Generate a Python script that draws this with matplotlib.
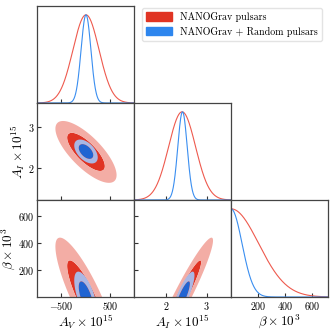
import numpy as np
import matplotlib
matplotlib.use("Agg")
import matplotlib.pyplot as plt
from matplotlib.patches import Patch

plt.rcParams["font.family"] = "serif"
plt.rcParams["font.serif"] = ["cmr10"]
plt.rcParams["mathtext.fontset"] = "cm"
plt.rcParams["axes.formatter.use_mathtext"] = True

# parameter names / axis labels
labels = [r"$A_V \times 10^{15}$", r"$A_I \times 10^{15}$", r"$\beta \times 10^3$"]
limits = [(-990, 990), (1.22, 3.6), (0, 720)]
ticks = [[-500, 500], [2, 3], [200, 400, 600]]

series_names = ["NANOGrav pulsars", "NANOGrav + Random pulsars"]

# posterior summaries
# 1D marginals: mean, sigma
red_mean = [10, 2.40, 0]
red_sigma_1d = [265, 0.33, 205]
blue_mean = [10, 2.41, 0]
blue_sigma_1d = [100, 0.115, 82]

# 2D contours: sigma and correlations (AV-AI, AV-b, AI-b)
red_sigma_2d = [255, 0.31, 180]
red_rho = [-0.75, -0.85, 0.95]
blue_sigma_2d = [98, 0.12, 77]
blue_rho = [-0.5, -0.65, 0.85]

dark = ["#E03424", "#2064D2"]
light = ["#F3ADA5", "#A9B7E4"]
line = ["#EE5A4E", "#3A8EF0"]
legend_colors = ["#E03424", "#2E86EE"]

# 68% / 95% 2D levels in chi2
chi2_levels = [0, 2.279, 5.991]


def rho_of(rho, i, j):
    key = {(0, 1): 0, (0, 2): 1, (1, 2): 2}[(min(i, j), max(i, j))]
    return rho[key]


fig = plt.figure(figsize=(3.32, 3.32), dpi=100)
W = 332.0
left, size = 37 / W, 97.0 / W
bottom = 1 - 297 / W

axes = {}
for r in range(3):
    for c in range(r + 1):
        ax = fig.add_axes([left + c * size, bottom + (2 - r) * size, size, size])
        axes[(r, c)] = ax

sets = [(red_mean, red_sigma_1d, red_sigma_2d, red_rho),
        (blue_mean, blue_sigma_1d, blue_sigma_2d, blue_rho)]

for r in range(3):
    for c in range(r + 1):
        ax = axes[(r, c)]
        if r == c:
            x = np.linspace(*limits[c], 600)
            for k, (m, s1, s2, rho) in enumerate(sets):
                y = np.exp(-0.5 * ((x - m[c]) / s1[c]) ** 2)
                ax.plot(x, y, color=line[k], lw=0.8)
            ax.set_ylim(0, 1.1)
            ax.set_yticks([])
        else:
            # x param c, y param r
            x = np.linspace(*limits[c], 600)
            y = np.linspace(*limits[r], 600)
            X, Y = np.meshgrid(x, y)
            for k, (m, s1, s2, rho) in enumerate(sets):
                p = rho_of(rho, c, r)
                u = (X - m[c]) / s2[c]
                v = (Y - m[r]) / s2[r]
                chi2 = (u ** 2 - 2 * p * u * v + v ** 2) / (1 - p ** 2)
                ax.contourf(X, Y, chi2, levels=chi2_levels, colors=[dark[k], light[k]],
                            antialiased=True)
            ax.set_ylim(*limits[r])
            ax.set_yticks(ticks[r])
        ax.set_xlim(*limits[c])
        ax.set_xticks(ticks[c])
        ax.tick_params(direction="in", length=3, width=0.8, labelsize=7.2,
                       color="#333333", pad=2)
        for sp in ax.spines.values():
            sp.set_color("#444444")
            sp.set_linewidth(0.9)
        if r == 2:
            ax.set_xlabel(labels[c], fontsize=9.5, labelpad=0.5)
        else:
            ax.tick_params(labelbottom=False)
        if c == 0 and r > 0:
            ax.set_ylabel(labels[r], fontsize=9.5, labelpad=0.5)
        else:
            ax.tick_params(labelleft=False)

handles = [Patch(color=c) for c in legend_colors]
fig.legend(handles, series_names, loc="upper right",
           bbox_to_anchor=(327 / W, 1 - 3 / W), fontsize=7.2,
           frameon=True, fancybox=True, edgecolor="#DDDDDD",
           handlelength=2.6, handleheight=0.9, borderpad=0.4, labelspacing=0.45)

fig.savefig("out.png", dpi=100)
